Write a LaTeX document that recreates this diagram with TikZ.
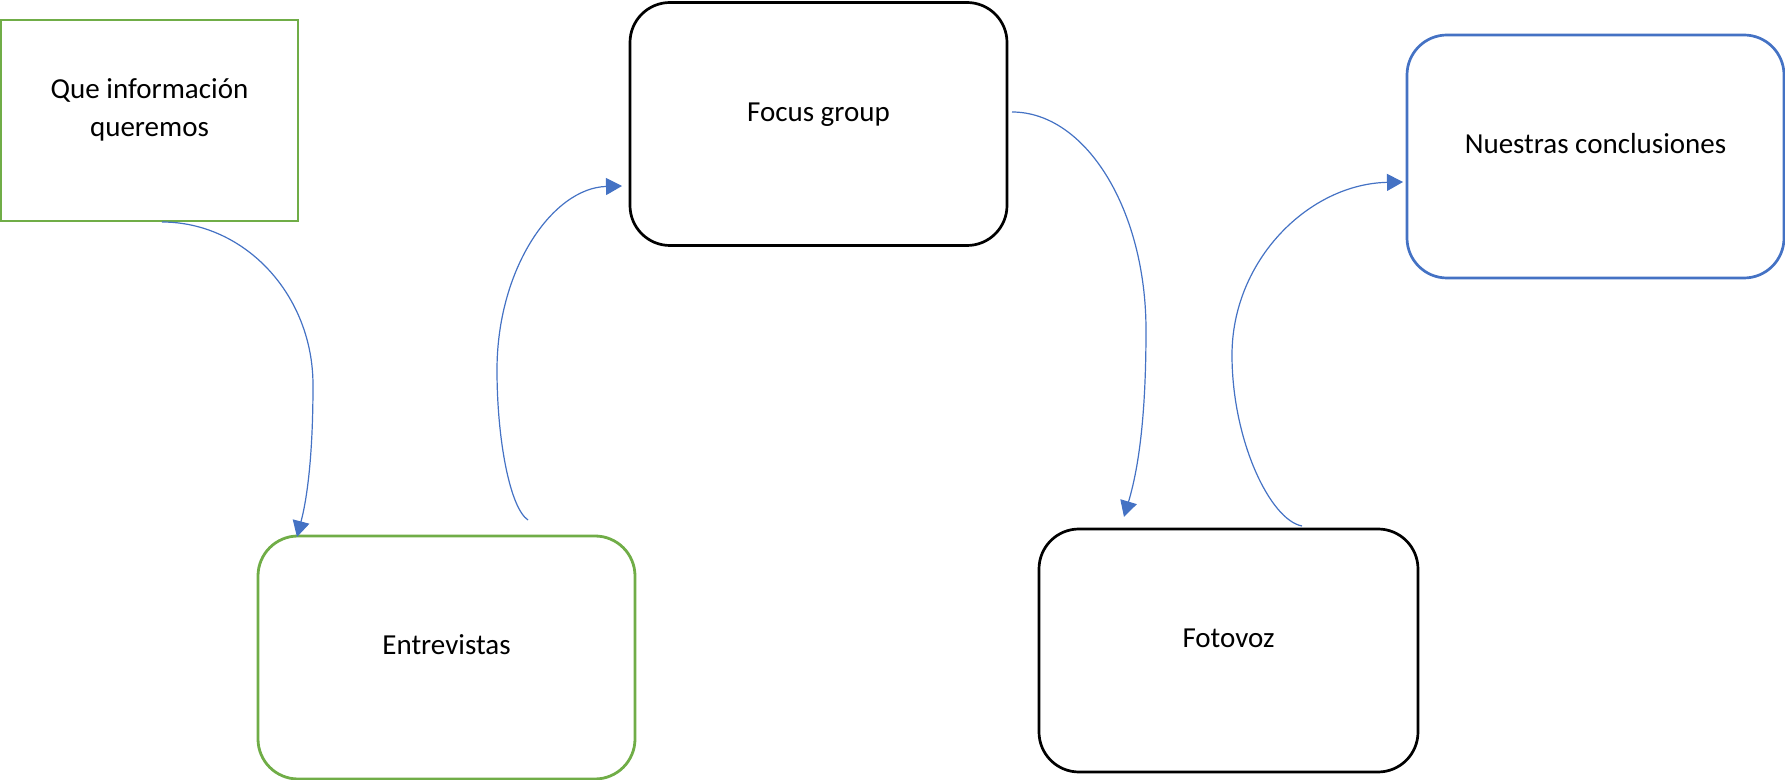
\documentclass[tikz,border=0pt]{standalone}
\usepackage{fontspec}
\setmainfont{Carlito}
\usetikzlibrary{arrows.meta,calc}
\definecolor{boxgreen}{HTML}{70AD47}
\definecolor{linkblue}{HTML}{4472C4}

\begin{document}
\begin{tikzpicture}[x=0.5pt,y=-0.5pt,
    box/.style={draw, rectangle, inner sep=0pt, outer sep=0pt,
      minimum width=188.5pt, minimum height=121.5pt, line width=1.35pt,
      font=\fontsize{14.5pt}{19pt}\selectfont, text height=9.5pt, text depth=12pt},
    roundbox/.style={box, rounded corners=20pt},
    link/.style={draw=linkblue, line width=0.6pt, -{Triangle[length=8pt,width=8.5pt]}}]
  \useasboundingbox (0,0) rectangle (1785,780);
  % boxes
  \node[box, draw=boxgreen, line width=1.4pt, minimum width=148.5pt, minimum height=100.5pt,
        align=center, text height=28.5pt] (que) at (149.5,120.5) {Que información\\queremos};
  \node[roundbox] (focus) at (818.5,124) {Focus group};
  \node[roundbox, draw=linkblue] (concl) at (1595.5,156.5) {Nuestras conclusiones};
  \node[roundbox, draw=boxgreen, line width=1.4pt] (entrev) at (446.5,657.5) {Entrevistas};
  \node[roundbox, minimum width=189.5pt] (foto) at (1228.5,650.5) {Fotovoz};
  % curved connectors
  \draw[link] ($(que.south)+(12.5,1)$) .. controls (245,222) and (313,295) .. (313,385)
    .. controls (313,450) and (308,495) .. ($(entrev.north)+(-149.5,1)$);
  \draw[link] ($(entrev.north)+(81.5,-16)$) .. controls (510,508) and (497,440) .. (497,370)
    .. controls (497,268) and (553,188) .. ($(focus.west)+(-8,62)$);
  \draw[link] ($(focus.east)+(5,-12)$) .. controls (1086,112) and (1146,210) .. (1146,330)
    .. controls (1146,420) and (1138,470) .. ($(foto.north)+(-104.5,-12)$);
  \draw[link] ($(foto.north)+(73.5,-3)$) .. controls (1270,520) and (1232,440) .. (1232,355)
    .. controls (1232,260) and (1309,184) .. ($(concl.west)+(-4,25.5)$);
\end{tikzpicture}
\end{document}
